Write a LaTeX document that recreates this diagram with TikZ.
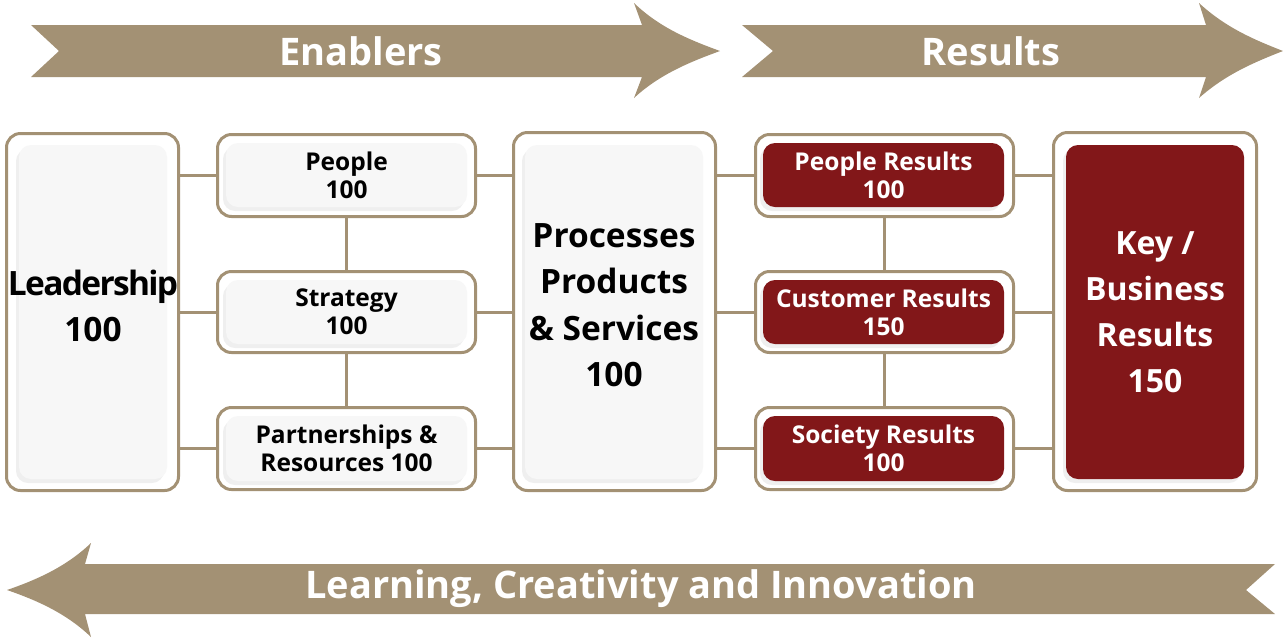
\documentclass[tikz,border=0pt]{standalone}
\usepackage{fontspec}
\setmainfont{Open Sans}
\usetikzlibrary{shadows}
\definecolor{efqmtan}{HTML}{A39174}
\definecolor{efqmred}{HTML}{821719}
\definecolor{efqmgrey}{HTML}{F7F7F7}

\begin{document}
\begin{tikzpicture}[x=1pt, y=-1pt,
  frame/.style = {draw=efqmtan, line width=3pt, rounded corners=14pt, fill=white, inner sep=0pt},
  card/.style = {rounded corners=12pt, fill=efqmgrey, inner sep=0pt, align=center,
    font=\bfseries\fontsize{24.5}{28}\selectfont,
    drop shadow={shadow xshift=-3pt, shadow yshift=-4pt, opacity=.12}},
  redcard/.style = {card, fill=efqmred, text=white},
  bigtext/.style = {align=center, inner sep=0pt, font=\bfseries\fontsize{33.5}{46.5}\selectfont},
  link/.style = {draw=efqmtan, line width=3pt},
  band/.style = {fill=efqmtan},
  bandtext/.style = {text=white, inner sep=0pt, font=\bfseries\fontsize{38}{40}\selectfont}]
  \useasboundingbox (0,0) rectangle (1283,641);

  % arrows
  \fill[band] (31,25) -- (642,25) -- (634,3) .. controls (660,28) and (690,40) .. (720,51)
    .. controls (690,62) and (660,74) .. (634,98) -- (642,77) -- (31,77) -- (59,51) -- cycle;
  \fill[band] (742,25) -- (1206,25) -- (1199,3) .. controls (1226,28) and (1255,40) .. (1283,51)
    .. controls (1255,62) and (1226,74) .. (1199,98) -- (1206,77) -- (742,77) -- (773,51) -- cycle;
  \fill[band] (1275,564) -- (85,564) -- (91,543) .. controls (66,567) and (36,580) .. (7,590)
    .. controls (36,600) and (66,613) .. (91,637) -- (85,614) -- (1275,614) -- (1246,590) -- cycle;
  \node[bandtext] (enablers) at (361,51) {Enablers};
  \node[bandtext] (results) at (991,51) {Results};
  \node[bandtext] (learning) at (641,589) {Learning, Creativity and Innovation};

  % enablers
  \node[frame, minimum width=172pt, minimum height=357pt] (leadF) at (92.5,312) {};
  \node[card, minimum width=148pt, minimum height=334pt] (lead) at (93,312) {};
  \node[bigtext, yshift=6pt] (leadT) at (lead.center) {\addfontfeatures{LetterSpace=-5}Leadership\\100};
  \node[frame, minimum width=258pt, minimum height=82pt] (pplF) at (346.5,175.5) {};
  \node[card, minimum width=241pt, minimum height=64pt] (ppl) at (346.5,175) {People\\100};
  \node[frame, minimum width=258pt, minimum height=81pt] (strF) at (346.5,312) {};
  \node[card, minimum width=241pt, minimum height=64pt] (str) at (346.5,312) {Strategy\\100};
  \node[frame, minimum width=258pt, minimum height=82pt] (prtF) at (346.5,448.5) {};
  \node[card, minimum width=241pt, minimum height=65pt] (prt) at (346.5,448.5) {Partnerships \&\\Resources 100};
  \node[frame, minimum width=202pt, minimum height=358pt] (procF) at (614.5,311.5) {};
  \node[card, minimum width=178pt, minimum height=334pt] (proc) at (614,312) {};
  \node[bigtext, yshift=7pt] (procT) at (proc.center) {Processes\\Products\\\& Services\\100};

  % results
  \node[frame, minimum width=258pt, minimum height=82pt] (prF) at (884.5,175.5) {};
  \node[redcard, minimum width=241pt, minimum height=64pt] (pr) at (883.5,175) {People Results\\100};
  \node[frame, minimum width=258pt, minimum height=81pt] (crF) at (884.5,312) {};
  \node[redcard, minimum width=241pt, minimum height=64pt] (cr) at (883.5,312) {Customer Results\\150};
  \node[frame, minimum width=258pt, minimum height=82pt] (srF) at (884.5,448.5) {};
  \node[redcard, minimum width=241pt, minimum height=65pt] (sr) at (883.5,448.5) {Society Results\\100};
  \node[frame, minimum width=203pt, minimum height=358pt] (keyF) at (1155,311.5) {};
  \node[redcard, font=\bfseries\fontsize{32}{46}\selectfont, minimum width=178pt, minimum height=334pt] (key) at (1155,312) {Key /\\Business\\Results\\150};

  % links
  \draw[link] (pplF.west) -- (pplF.west -| leadF.east);
  \draw[link] (strF.west) -- (strF.west -| leadF.east);
  \draw[link] (prtF.west) -- (prtF.west -| leadF.east);
  \draw[link] (pplF.south) -- (strF.north);
  \draw[link] (strF.south) -- (prtF.north);
  \draw[link] (pplF.east) -- (pplF.east -| procF.west);
  \draw[link] (strF.east) -- (strF.east -| procF.west);
  \draw[link] (prtF.east) -- (prtF.east -| procF.west);
  \draw[link] (prF.west) -- (prF.west -| procF.east);
  \draw[link] (crF.west) -- (crF.west -| procF.east);
  \draw[link] (srF.west) -- (srF.west -| procF.east);
  \draw[link] (prF.south) -- (crF.north);
  \draw[link] (crF.south) -- (srF.north);
  \draw[link] (prF.east) -- (prF.east -| keyF.west);
  \draw[link] (crF.east) -- (crF.east -| keyF.west);
  \draw[link] (srF.east) -- (srF.east -| keyF.west);
\end{tikzpicture}
\end{document}
